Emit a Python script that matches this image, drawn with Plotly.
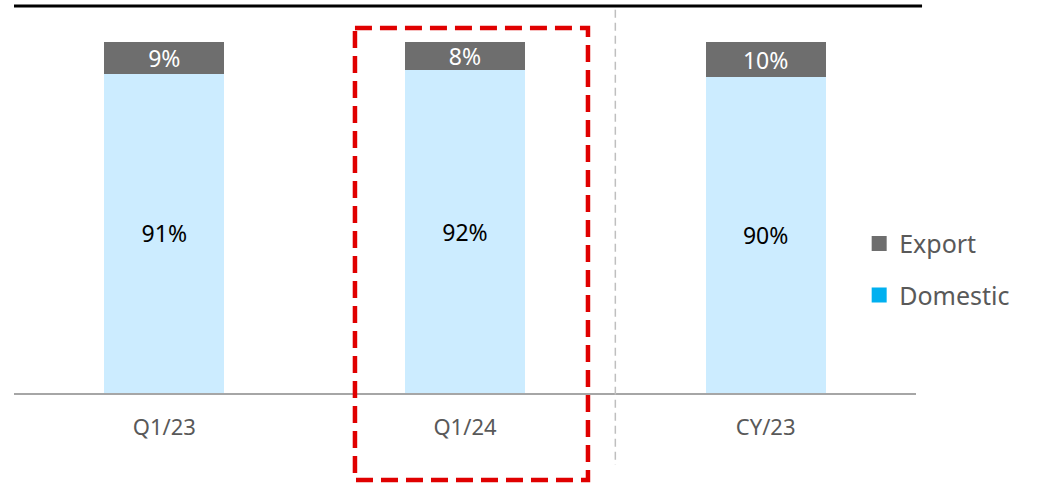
import plotly.graph_objects as go

categories = ["Q1/23", "Q1/24", "CY/23"]
domestic = [91, 92, 90]
export = [9, 8, 10]

DOMESTIC_BAR = "#CCECFF"
DOMESTIC_KEY = "#00B0F0"
EXPORT_COLOR = "#6E6E6E"
FONT = "Noto Sans"

fig = go.Figure()

fig.add_trace(go.Bar(
    x=categories, y=domestic, name="Domestic",
    marker=dict(color=DOMESTIC_BAR, line=dict(width=0)),
    text=[f"{v}%" for v in domestic], textposition="inside",
    insidetextanchor="middle", constraintext="none",
    textfont=dict(family=FONT, size=23, color="#000000"),
    width=0.4, showlegend=False, hoverinfo="skip",
))
fig.add_trace(go.Bar(
    x=categories, y=export, name="Export",
    marker=dict(color=EXPORT_COLOR, line=dict(width=0)),
    text=[f"{v}%" for v in export], textposition="inside",
    insidetextanchor="middle", constraintext="none",
    textfont=dict(family=FONT, size=23, color="#FFFFFF"),
    width=0.4, showlegend=False, hoverinfo="skip",
))

# legend keys
fig.add_trace(go.Scatter(
    x=[None], y=[None], mode="markers", name="Export", legendgroup="a",
    marker=dict(symbol="square", size=15, color=EXPORT_COLOR),
))
fig.add_trace(go.Scatter(
    x=[None], y=[None], mode="markers", name="Domestic", legendgroup="b",
    marker=dict(symbol="square", size=15, color=DOMESTIC_KEY),
))

shapes = [
    # heavy rule along the top
    dict(type="line", xref="paper", yref="paper", x0=0, x1=1.0067, y0=1, y1=1,
         line=dict(color="#000000", width=3)),
    # separator between quarterly and full-year bars
    dict(type="line", xref="x", yref="paper", x0=1.5, x1=1.5, y0=0.99, y1=-0.186,
         line=dict(color="#BFBFBF", width=1.5, dash="8px,5px")),
    # highlight box around the current quarter
    dict(type="rect", xref="x", yref="paper", x0=0.634, x1=1.409, y0=0.943, y1=-0.225,
         line=dict(color="#E00000", width=4.5, dash="17px,8px")),
]

fig.update_layout(
    barmode="stack",
    width=1048, height=485,
    margin=dict(l=14, r=132, t=6, b=92),
    paper_bgcolor="white", plot_bgcolor="white",
    font=dict(family=FONT, color="#595959"),
    shapes=shapes,
    legend=dict(
        x=0.937, y=0.32, xanchor="left", yanchor="middle",
        font=dict(family=FONT, size=25, color="#595959"),
        traceorder="grouped", tracegroupgap=16,
        itemwidth=30, bgcolor="rgba(0,0,0,0)",
    ),
    xaxis=dict(
        range=[-0.5, 2.5], showline=True, linecolor="#A6A6A6", linewidth=2,
        ticks="", tickfont=dict(family=FONT, size=22, color="#595959"),
        ticklabelstandoff=14, showgrid=False, zeroline=False, fixedrange=True,
    ),
    yaxis=dict(
        range=[0, 110.26], visible=False, showgrid=False, zeroline=False,
        fixedrange=True,
    ),
)

fig.write_html("out.html")
